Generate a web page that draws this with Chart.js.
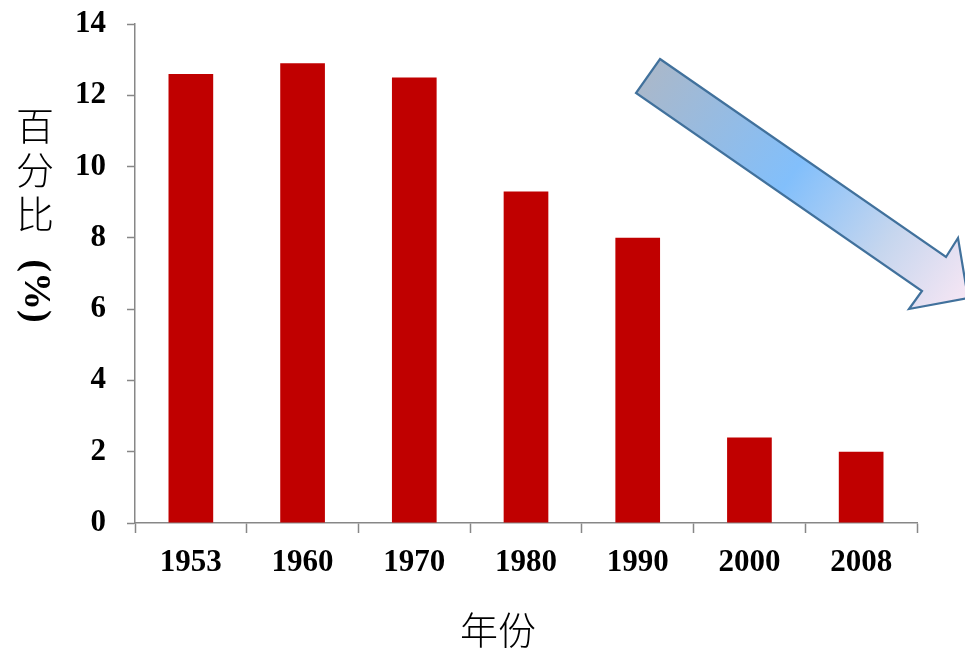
<!DOCTYPE html>
<html>
<head>
<meta charset="utf-8">
<script src="https://cdn.jsdelivr.net/npm/chart.js@4/dist/chart.umd.min.js"></script>
<style>
  html, body { margin: 0; padding: 0; background: #fff; }
  #wrap { width: 965px; height: 650px; }
</style>
</head>
<body>
<div id="wrap"><canvas id="shareChart"></canvas></div>
<script>
// Share (%) by year
const years = ['1953', '1960', '1970', '1980', '1990', '2000', '2008'];
const shares = [12.6, 12.9, 12.5, 9.3, 8.0, 2.4, 2.0];
const yTicks = [0, 2, 4, 6, 8, 10, 12, 14];

const axisGray = '#878787';
const serifFamily = '"Liberation Serif", "Times New Roman", serif';
const serifBold = { family: serifFamily, size: 31, weight: 'bold' };
const cjkFont = '"Noto Sans CJK SC", "Noto Sans CJK TC", sans-serif';

// Axis titles: y title stacked vertically, "(%)" turned sideways; x title under the labels
const titlesPlugin = {
  id: 'axisTitles',
  afterDraw(chart) {
    const ctx = chart.ctx;
    ctx.save();
    ctx.fillStyle = '#000';
    ctx.textAlign = 'center';
    ctx.textBaseline = 'middle';
    ctx.font = '300 38px ' + cjkFont;
    const x = 35;
    ['百', '分', '比'].forEach((ch, i) => ctx.fillText(ch, x, 126 + i * 44));
    ctx.fillText('年份', 498, 630);
    ctx.translate(x, 291);
    ctx.rotate(Math.PI / 2);
    ctx.font = 'bold 38px ' + serifFamily;
    ctx.fillText('(%)', 0, 0);
    ctx.restore();
  }
};

// Decorative downward arrow with a blue gradient fill
const arrowPlugin = {
  id: 'trendArrow',
  afterDatasetsDraw(chart) {
    const ctx = chart.ctx;
    const pts = [[660, 59], [946, 257], [958, 238], [968, 298], [909, 309], [922, 291], [636, 93]];
    const grad = ctx.createLinearGradient(648, 76, 965, 300);
    grad.addColorStop(0, '#A9B8CB');
    grad.addColorStop(0.45, '#82BFFB');
    grad.addColorStop(0.75, '#C6D6EE');
    grad.addColorStop(1, '#F6E6F4');
    ctx.save();
    ctx.beginPath();
    pts.forEach((p, i) => (i ? ctx.lineTo(p[0], p[1]) : ctx.moveTo(p[0], p[1])));
    ctx.closePath();
    ctx.fillStyle = grad;
    ctx.fill();
    ctx.lineWidth = 2.2;
    ctx.strokeStyle = '#41719C';
    ctx.lineJoin = 'miter';
    ctx.stroke();
    ctx.restore();
  }
};

new Chart(document.getElementById('shareChart'), {
  type: 'bar',
  data: {
    labels: years,
    datasets: [{
      data: shares,
      backgroundColor: '#C00000',
      borderWidth: 0,
      barPercentage: 0.8,
      categoryPercentage: 0.5
    }]
  },
  options: {
    responsive: true,
    maintainAspectRatio: false,
    animation: false,
    layout: { padding: { top: 24, right: 48, left: 0, bottom: 0 } },
    plugins: {
      legend: { display: false },
      tooltip: { enabled: false }
    },
    scales: {
      x: {
        offset: true,
        grid: {
          offset: true,
          drawOnChartArea: false,
          color: axisGray,
          tickLength: 10,
          tickWidth: 1.5
        },
        border: { color: axisGray, width: 1.5 },
        ticks: { color: '#000', font: serifBold, padding: 11, maxRotation: 0 },
        afterFit(scale) { scale.height = 127; }
      },
      y: {
        min: 0,
        max: 14,
        afterBuildTicks(scale) { scale.ticks = yTicks.map(v => ({ value: v })); },
        grid: {
          drawOnChartArea: false,
          color: axisGray,
          tickLength: 8,
          tickWidth: 1.5
        },
        border: { color: axisGray, width: 1.5 },
        ticks: { color: '#000', font: serifBold, padding: 21 },
        afterFit(scale) {
          scale.width = 135;
          scale.paddingTop = 0;
          scale.paddingBottom = 0;
        }
      }
    }
  },
  plugins: [titlesPlugin, arrowPlugin]
});
</script>
</body>
</html>
